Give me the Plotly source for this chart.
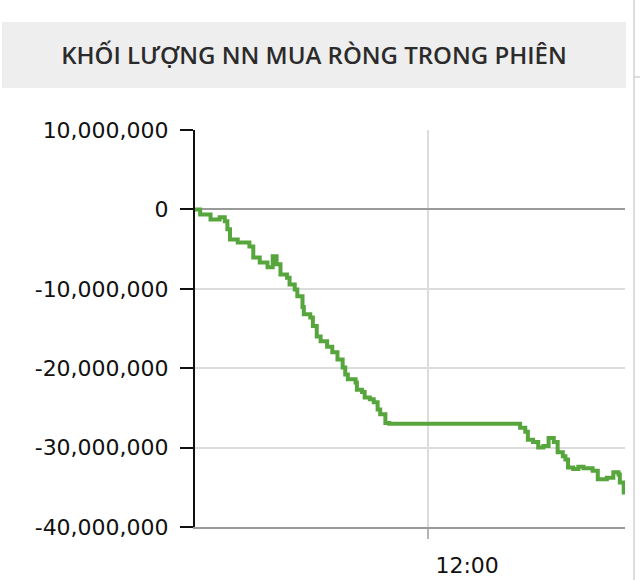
import plotly.graph_objects as go

DAY = "2024-01-02"
times = ["09:00", "09:04", "09:12", "09:19", "09:23", "09:25", "09:27", "09:33", "09:39", "09:42",
         "09:45", "09:50", "09:56", "10:00", "10:03", "10:06", "10:11", "10:13", "10:17", "10:19",
         "10:23", "10:24", "10:29", "10:31", "10:34", "10:37", "10:42", "10:46", "10:50", "10:54",
         "10:56", "10:58", "11:04", "11:05", "11:09", "11:11", "11:15", "11:18", "11:21", "11:23",
         "11:27", "11:30", "13:07", "13:11", "13:15", "13:17", "13:21", "13:25", "13:29", "13:33",
         "13:37", "13:40", "13:44", "13:46", "13:48", "13:52", "13:56", "14:00", "14:07", "14:11",
         "14:18", "14:23", "14:27", "14:28", "14:31"]
net_volume = [0, -630000, -1260000, -1000000, -1500000, -2500000, -3800000, -4160000, -4160000, -4660000,
              -6050000, -6700000, -7300000, -5900000, -6900000, -8200000, -8600000, -9450000, -10100000, -10950000,
              -12300000, -13200000, -13600000, -14700000, -16000000, -16600000, -17300000, -18000000, -18900000, -19900000,
              -20800000, -21400000, -21800000, -22700000, -23000000, -23700000, -23900000, -24300000, -25200000, -25800000,
              -26900000, -27000000, -27000000, -27500000, -28000000, -29000000, -29300000, -30000000, -29800000, -28800000,
              -29300000, -30600000, -31100000, -31500000, -32500000, -32700000, -32400000, -32600000, -32900000, -34000000,
              -33800000, -33100000, -33400000, -34400000, -35900000]
y_ticks = [10000000, 0, -10000000, -20000000, -30000000, -40000000]
y_tick_labels = ["10,000,000", "0", "-10,000,000", "-20,000,000", "-30,000,000", "-40,000,000"]
x_ticks = ["12:00"]
x_range = ["09:00", "14:32"]
title_text = "KHỐI LƯỢNG NN MUA RÒNG TRONG PHIÊN"

W, H = 640, 580
L, R, T, B = 195, 15, 130, 53
pw, ph = W - L - R, H - T - B

def px(x):
    return (x - L) / pw

def py(y):
    return (H - B - y) / ph

fig = go.Figure()
fig.add_trace(go.Scatter(
    x=[f"{DAY} {t}" for t in times], y=net_volume, mode="lines",
    line=dict(color="#57A53D", width=4, shape="hv"), hoverinfo="skip", showlegend=False))

tick_font = dict(family="DejaVu Sans, Verdana, sans-serif", size=22, color="#111111")

fig.update_layout(
    width=W, height=H, margin=dict(l=L, r=R, t=T, b=B, autoexpand=False),
    paper_bgcolor="white", plot_bgcolor="white",
    title=dict(text=title_text, x=314 / W, xanchor="center", y=1 - 56 / H, yanchor="middle",
               automargin=False,
               font=dict(family="Open Sans", size=24, color="#2b2b2b", weight=600)),
    xaxis=dict(
        type="date", range=[f"{DAY} {x_range[0]}", f"{DAY} {x_range[1]}"],
        tickvals=[f"{DAY} {t}" for t in x_ticks], ticktext=x_ticks,
        showgrid=True, gridcolor="#DCDCDC", gridwidth=1.5,
        showline=True, linecolor="#9A9A9A", linewidth=2,
        ticks="outside", ticklen=10, tickwidth=2, tickcolor="#B5B5B5",
        tickfont=tick_font, ticklabelshift=39, ticklabelstandoff=8,
        zeroline=False, fixedrange=True, automargin=False),
    yaxis=dict(
        range=[-40000000, 10000000], tickvals=y_ticks, ticktext=y_tick_labels,
        showgrid=True, gridcolor="#DCDCDC", gridwidth=1.5,
        zeroline=True, zerolinecolor="#9A9A9A", zerolinewidth=2,
        showline=True, linecolor="#111111", linewidth=2,
        ticks="outside", ticklen=13, tickwidth=2, tickcolor="#111111",
        tickfont=tick_font, ticklabelstandoff=7, fixedrange=True, automargin=False),
    shapes=[
        dict(type="rect", xref="paper", yref="paper", x0=px(2), x1=px(626), y0=py(88), y1=py(22),
             fillcolor="#EEEEEE", line=dict(width=0), layer="below"),
        dict(type="line", xref="paper", yref="paper", x0=px(634), x1=px(634), y0=py(H), y1=py(0),
             line=dict(color="#DDDDDD", width=2)),
        dict(type="line", xref="paper", yref="paper", x0=px(634), x1=px(641), y0=py(77), y1=py(77),
             line=dict(color="#DDDDDD", width=2)),
    ],
)

fig.write_html("out.html", config={"displayModeBar": False},
               post_script="document.body.style.margin='0';document.body.style.overflow='hidden';")
